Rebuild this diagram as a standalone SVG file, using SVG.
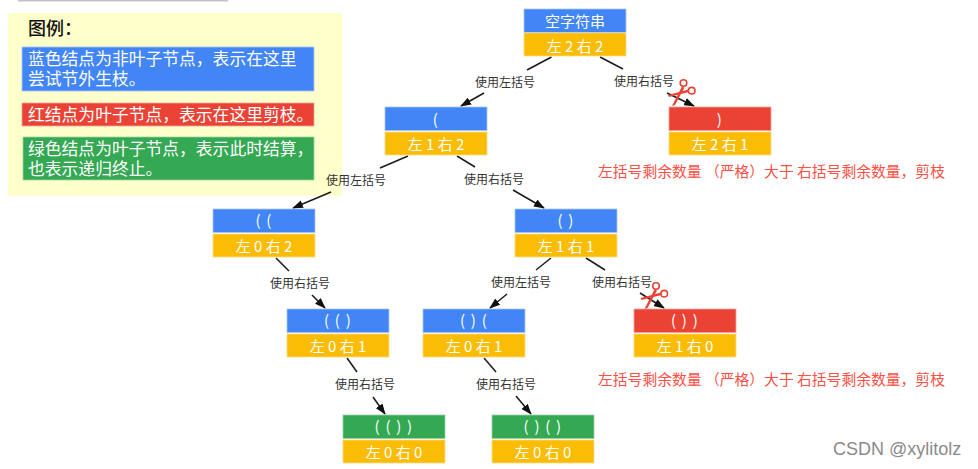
<svg xmlns="http://www.w3.org/2000/svg" width="978" height="469" viewBox="0 0 978 469">
<style>
text{font-family:"Noto Sans CJK SC","Noto Sans",sans-serif}
.t{fill:#fff;font-size:15px;text-anchor:middle}
.p{letter-spacing:1.2px}
.b{fill:#4285f4;stroke:#a9c6f8;stroke-width:.8}
.r{fill:#ea4335;stroke:#f5a59e;stroke-width:.8}
.g{fill:#34a853;stroke:#9ad3a9;stroke-width:.8}
.y{fill:#fbbc05;stroke:#fddc82;stroke-width:.8}
text.l{fill:#fff;font-size:16.8px;font-family:"Liberation Sans","Noto Sans CJK SC",sans-serif}
.c line{stroke:#1a1a1a;stroke-width:1.5}
.a{marker-end:url(#arr)}
.e{fill:#333;font-size:12px;text-anchor:middle}
.w{fill:#ff5046;font-size:14.8px}
.s{fill:none;stroke:#ea4335;stroke-width:1.6}
</style>
<defs>
<marker id="arr" markerWidth="11" markerHeight="8" refX="10" refY="4" orient="auto" markerUnits="userSpaceOnUse"><path d="M0 0L11 4L0 8z" fill="#111"/></marker>
<g id="sc"><circle class="s" cx="683.5" cy="83" r="3.3"/><circle class="s" cx="691.7" cy="90.7" r="3.3"/><path d="M682 86.5L672 106L675 105L684.5 87.5z" fill="#ea4335"/><path d="M688.5 89.5L668 95L669 97L689 92z" fill="#ea4335"/></g>
</defs>
<rect width="978" height="469" fill="#fff"/>
<rect x="18" y="0" width="210" height="1.500" fill="#c4c4c4"/>
<g id="legend">
<rect x="8" y="13" width="334" height="183" fill="#ffffcc"/>
<text x="28" y="35" font-size="18" fill="#111" font-weight="500">图例：</text>
<rect class="b" x="22" y="47" width="292" height="44"/>
<text class="l" x="28" y="65">蓝色结点为非叶子节点，表示在这里</text>
<text class="l" x="28" y="85">尝试节外生枝。</text>
<rect class="r" x="22" y="103" width="292" height="23"/>
<text class="l" x="28" y="121">红结点为叶子节点，表示在这里剪枝。</text>
<rect class="g" x="23" y="137" width="291" height="43"/>
<text class="l" x="28" y="155">绿色结点为叶子节点，表示此时结算，</text>
<text class="l" x="28" y="175">也表示递归终止。</text>
</g>
<g id="connectors" class="c">
<line x1="551.5" y1="57" x2="527" y2="70"/><line class="a" x1="484" y1="93" x2="461" y2="106"/>
<line x1="600" y1="57" x2="623" y2="69"/><line class="a" x1="667" y1="93" x2="694" y2="106"/>
<line x1="408" y1="156" x2="380" y2="168"/><line class="a" x1="331" y1="192" x2="293" y2="208"/>
<line x1="457" y1="156" x2="475" y2="167"/><line class="a" x1="513" y1="190" x2="544" y2="208"/>
<line x1="276" y1="258" x2="289" y2="271"/><line class="a" x1="312" y1="295" x2="325" y2="308"/>
<line x1="551" y1="258" x2="536" y2="270"/><line class="a" x1="507" y1="294" x2="490" y2="308"/>
<line x1="586" y1="258" x2="605" y2="270"/><line class="a" x1="640" y1="293" x2="664" y2="308"/>
<line x1="347" y1="358" x2="357" y2="372"/><line class="a" x1="373" y1="397" x2="385" y2="414"/>
<line x1="484" y1="358" x2="496" y2="372"/><line class="a" x1="516" y1="396" x2="531" y2="414"/>
</g>
<g id="edge-labels">
<text class="e" x="505" y="87">使用左括号</text>
<text class="e" x="644" y="86">使用右括号</text>
<text class="e" x="356" y="185">使用左括号</text>
<text class="e" x="494" y="184">使用右括号</text>
<text class="e" x="300" y="288">使用右括号</text>
<text class="e" x="521" y="287">使用左括号</text>
<text class="e" x="622" y="287">使用右括号</text>
<text class="e" x="365" y="389">使用右括号</text>
<text class="e" x="506" y="389">使用右括号</text>
</g>
<g id="n-root"><rect class="b" x="524" y="9" width="102" height="23.500"/><rect class="y" x="524" y="33" width="102" height="23"/><text class="t" x="575" y="26.500">空字符串</text><text class="t" x="575" y="52">左 2 右 2</text></g>
<g id="n-l"><rect class="b" x="385" y="107" width="102" height="23.500"/><rect class="y" x="385" y="132" width="102" height="23"/><text class="t p" x="436" y="125">(</text><text class="t" x="436" y="150">左 1 右 2</text></g>
<g id="n-r"><rect class="r" x="669" y="107" width="102" height="23.500"/><rect class="y" x="669" y="132" width="102" height="23"/><text class="t p" x="720" y="125">)</text><text class="t" x="720" y="150">左 2 右 1</text></g>
<g id="n-ll"><rect class="b" x="213" y="209" width="102" height="23.500"/><rect class="y" x="213" y="234" width="102" height="23"/><text class="t p" x="264" y="226">( (</text><text class="t" x="264" y="252">左 0 右 2</text></g>
<g id="n-lr"><rect class="b" x="515" y="209" width="102" height="23.500"/><rect class="y" x="515" y="234" width="102" height="23"/><text class="t p" x="566" y="226">( )</text><text class="t" x="566" y="252">左 1 右 1</text></g>
<g id="n-llr"><rect class="b" x="287" y="309" width="102" height="23.500"/><rect class="y" x="287" y="334" width="102" height="23"/><text class="t p" x="338" y="326">( ( )</text><text class="t" x="338" y="352">左 0 右 1</text></g>
<g id="n-lrl"><rect class="b" x="423" y="309" width="102" height="23.500"/><rect class="y" x="423" y="334" width="102" height="23"/><text class="t p" x="474" y="326">( ) (</text><text class="t" x="474" y="352">左 0 右 1</text></g>
<g id="n-lrr"><rect class="r" x="634" y="309" width="102" height="23.500"/><rect class="y" x="634" y="334" width="102" height="23"/><text class="t p" x="685" y="326">( ) )</text><text class="t" x="685" y="352">左 1 右 0</text></g>
<g id="n-llrr"><rect class="g" x="343" y="415" width="102" height="23.500"/><rect class="y" x="343" y="440" width="102" height="23"/><text class="t p" x="394" y="432">( ( ) )</text><text class="t" x="394" y="458">左 0 右 0</text></g>
<g id="n-lrlr"><rect class="g" x="492" y="415" width="102" height="23.500"/><rect class="y" x="492" y="440" width="102" height="23"/><text class="t p" x="543" y="432">( ) ( )</text><text class="t" x="543" y="458">左 0 右 0</text></g>
<use href="#sc"/>
<use href="#sc" x="-27.500" y="203"/>
<text class="w" x="598" y="177">左括号剩余数量 （严格）大于 右括号剩余数量，剪枝</text>
<text class="w" x="598" y="385">左括号剩余数量 （严格）大于 右括号剩余数量，剪枝</text>
<text x="833" y="455" font-size="18" style="font-family:'Liberation Sans',sans-serif" fill="#8a8a8a">CSDN @xylitolz</text>
</svg>
